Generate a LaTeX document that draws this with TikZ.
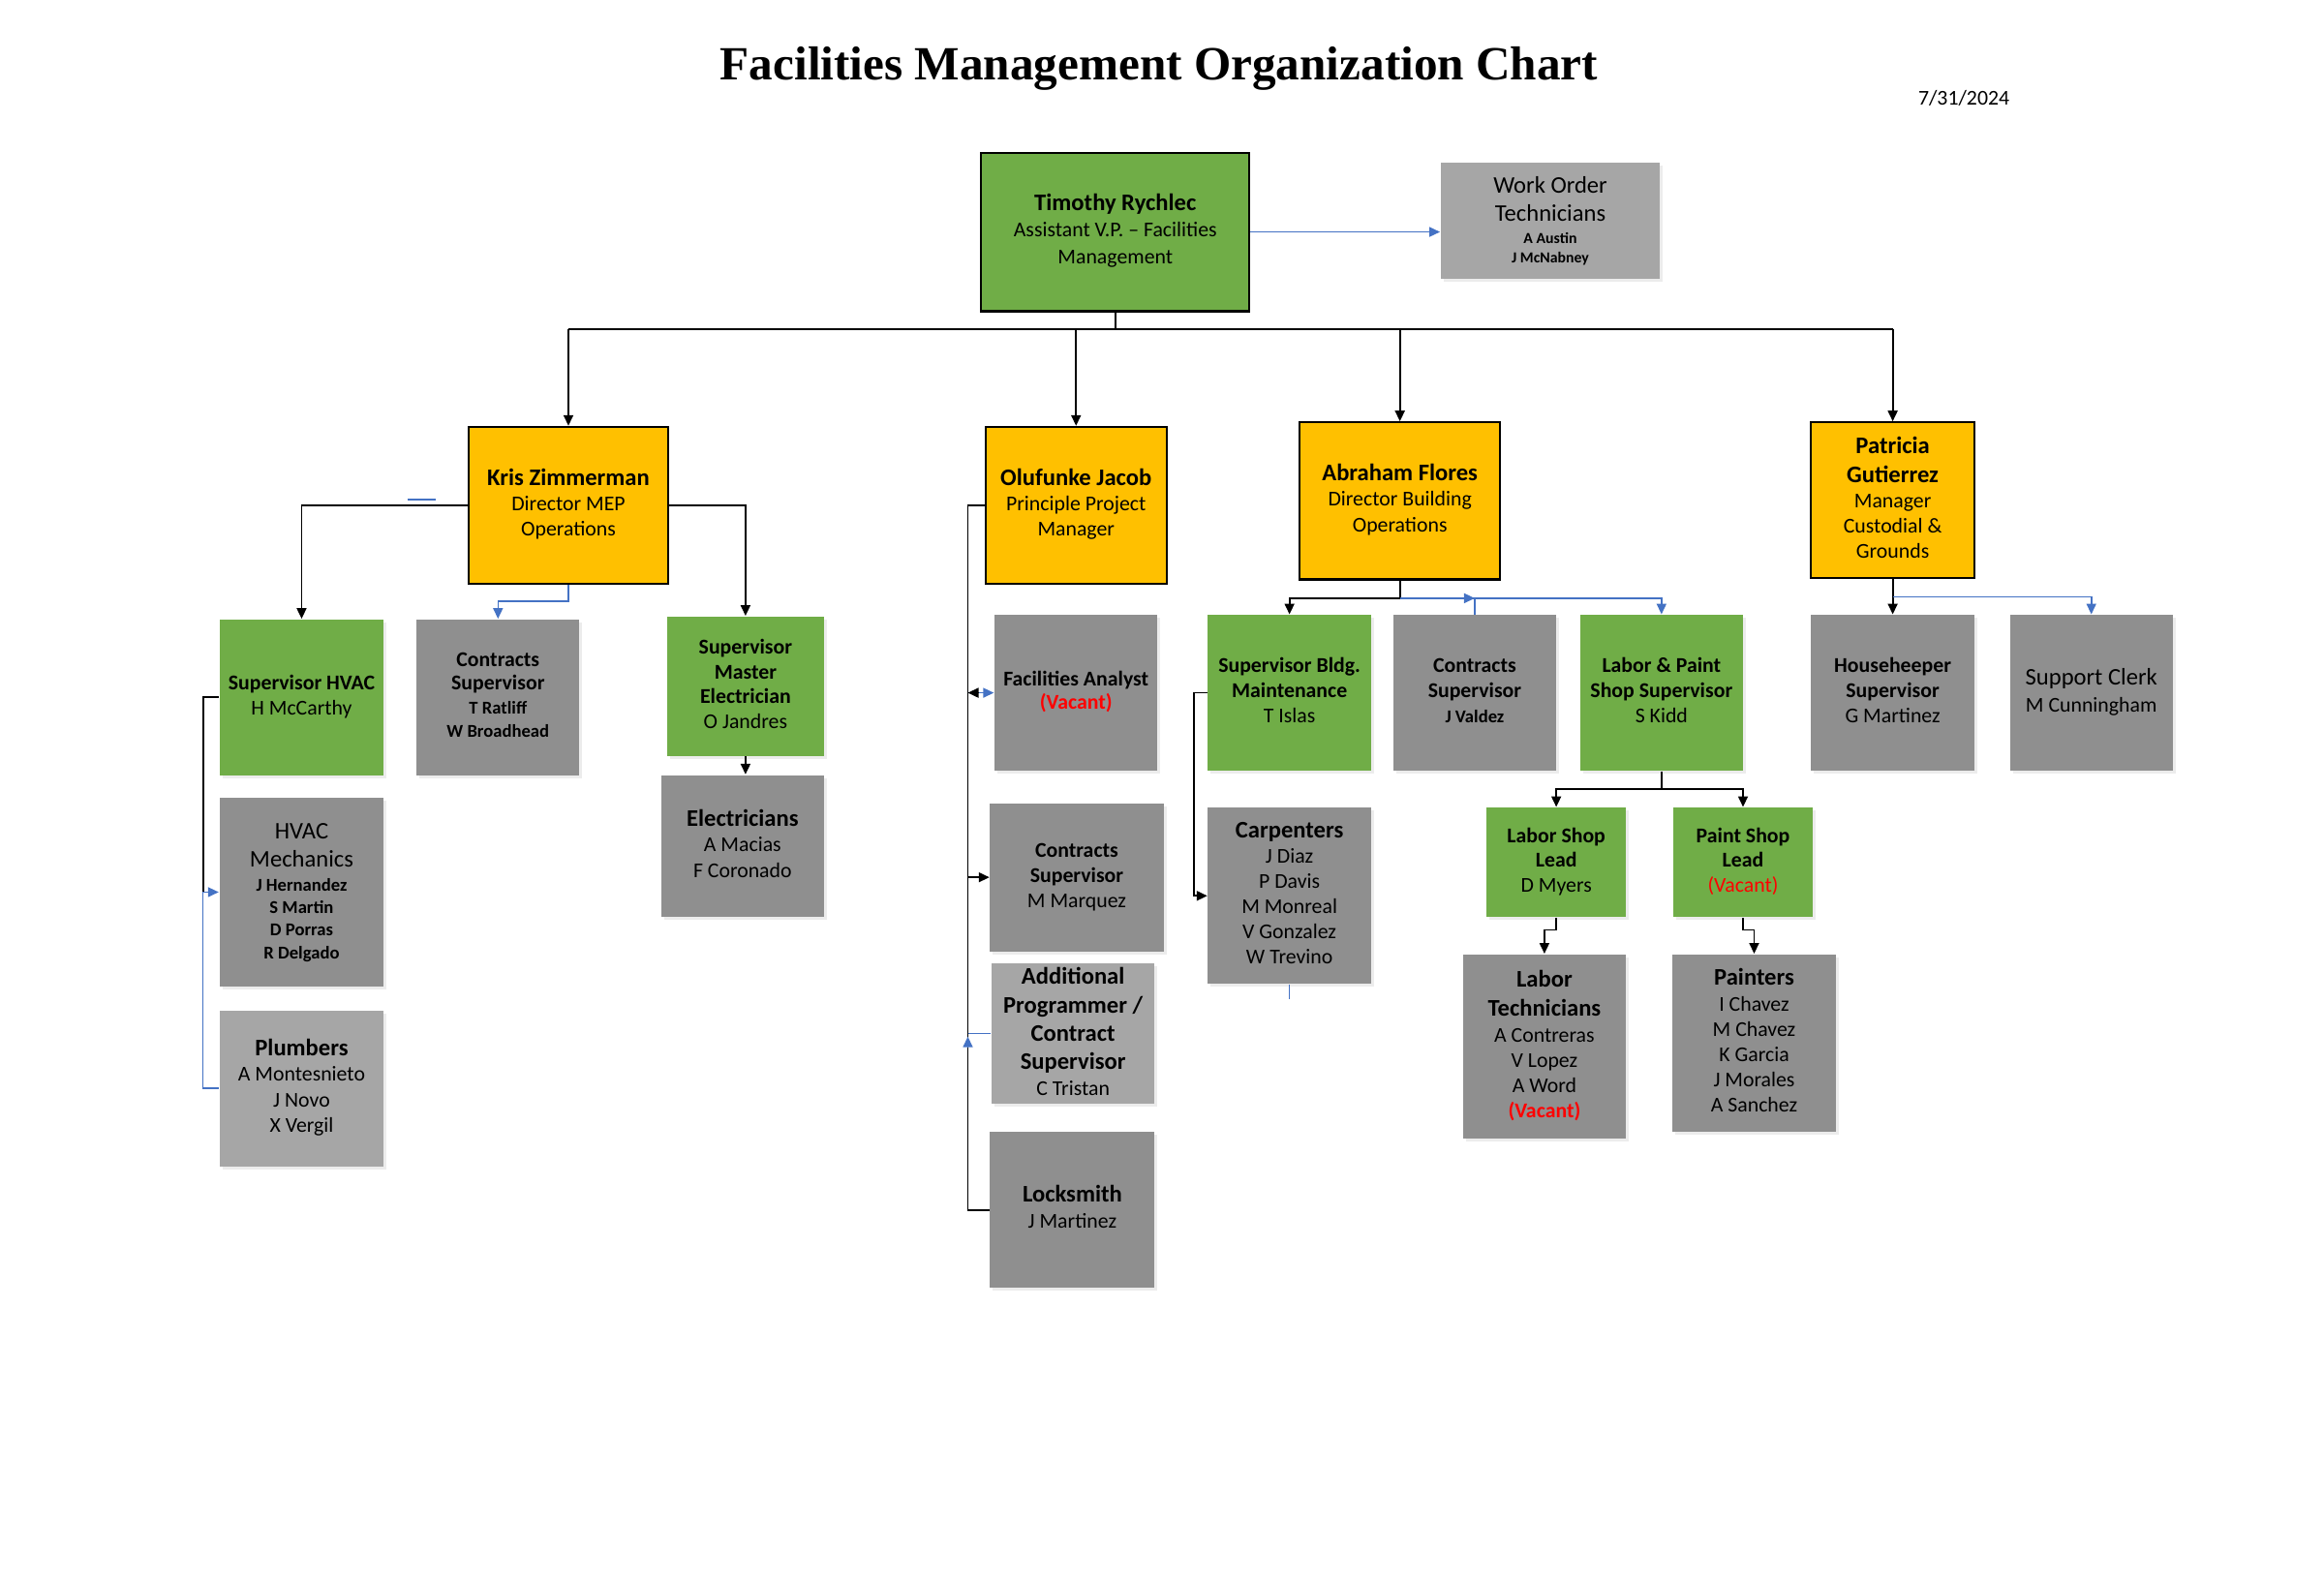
\documentclass[tikz,border=0pt]{standalone}
\usepackage{fontspec}
\setmainfont{Carlito}
\newfontfamily\titlefont{Liberation Serif}
\usetikzlibrary{arrows.meta,shadows,calc}
\definecolor{gr}{HTML}{70AD47}
\definecolor{og}{HTML}{FFC000}
\definecolor{dg}{HTML}{8F8F8F}
\definecolor{lg}{HTML}{A6A6A6}
\definecolor{bl}{HTML}{4472C4}
\definecolor{vr}{HTML}{FF0000}
\newcommand\fA{\fontsize{7}{8}\selectfont}
\newcommand\fB{\fontsize{6.2}{7}\selectfont}
\newcommand\fC{\fontsize{5.3}{6}\selectfont}
\newcommand\fD{\fontsize{4.5}{5}\selectfont}
\newcommand\R[3]{\rule[-\dimexpr#1*3/10\relax]{0pt}{#1}#2#3}
\newcommand\stk[1]{\raisebox{-0.45mm}{\renewcommand\arraystretch{0}\begin{tabular}{@{}c@{}}#1\end{tabular}}}
\newcommand\orgbox[7]{\node[#1, minimum width={(#4-#3)*0.015306cm}, minimum height={(#6-#5)*0.015306cm}] (#2) at ({(#3+#4)/2},{(#5+#6)/2}) {#7};}
\tikzset{
  box/.style={rectangle, inner sep=0pt, align=center, text=black},
  shd/.style={drop shadow={shadow xshift=0.3mm, shadow yshift=-0.3mm, opacity=0.15}},
  tbox/.style={box, fill=gr, draw=black, line width=0.6pt},
  obox/.style={box, fill=og, draw=black, line width=0.6pt},
  gbox/.style={box, fill=gr, shd},
  dbox/.style={box, fill=dg, shd},
  lbox/.style={box, fill=lg, shd},
  cline/.style={draw=black, line width=0.5pt},
  carrow/.style={cline, -{Triangle[length=1.1mm,width=1.0mm]}},
  bline/.style={draw=bl, line width=0.45pt},
  barrow/.style={bline, -{Triangle[length=1.1mm,width=1.0mm]}}
}
\begin{document}
\begin{tikzpicture}[x=0.015306cm, y=-0.015306cm]
\useasboundingbox (0,0) rectangle (1568,1066.24);
\node[font=\titlefont\bfseries\fontsize{14}{16}\selectfont] (title) at (782,46) {Facilities Management Organization Chart};
\node[font=\fontsize{6.2}{7}\selectfont] (date) at (1325,66) {7/31/2024};

\orgbox{tbox}{tim}{662}{843}{103}{210}{\raisebox{0.9mm}{\stk{\R{7.7pt}{\fA\bfseries}{Timothy Rychlec}\\\R{7.7pt}{\fB}{Assistant V.P. – Facilities}\\\R{7.7pt}{\fB}{Management}}}}
\orgbox{lbox}{wo}{972}{1120}{110}{188}{\stk{\R{8.3pt}{\fA}{Work Order}\\\R{8.3pt}{\fA}{Technicians}\\\R{5.7pt}{\fD\bfseries}{A Austin}\\\R{5.7pt}{\fD\bfseries}{J McNabney}}}

\orgbox{obox}{kris}{316}{451}{288}{394}{\stk{\R{7.7pt}{\fA\bfseries}{Kris Zimmerman}\\\R{7.5pt}{\fB}{Director MEP}\\\R{7.5pt}{\fB}{Operations}}}
\orgbox{obox}{ol}{665}{787}{288}{394}{\stk{\R{7.7pt}{\fA\bfseries}{Olufunke Jacob}\\\R{7.5pt}{\fB}{Principle Project}\\\R{7.5pt}{\fB}{Manager}}}
\orgbox{obox}{ab}{877}{1012}{285}{391}{\stk{\R{7.7pt}{\fA\bfseries}{Abraham Flores}\\\R{7.5pt}{\fB}{Director Building}\\\R{7.5pt}{\fB}{Operations}}}
\orgbox{obox}{pat}{1222}{1332}{285}{390}{\stk{\R{8.3pt}{\fA\bfseries}{Patricia}\\\R{8.3pt}{\fA\bfseries}{Gutierrez}\\\R{7.4pt}{\fB}{Manager}\\\R{7.4pt}{\fB}{Custodial \&}\\\R{7.4pt}{\fB}{Grounds}}}

\orgbox{gbox}{shvac}{148}{259}{418}{523}{\stk{\R{7.5pt}{\fB\bfseries}{Supervisor HVAC}\\\R{7.5pt}{\fB}{H McCarthy}}}
\orgbox{dbox}{cst}{281}{391}{418}{523}{\stk{\R{6.9pt}{\fB\bfseries}{Contracts}\\\R{6.9pt}{\fB\bfseries}{Supervisor}\\\R{6.9pt}{\fC\bfseries}{T Ratliff}\\\R{6.9pt}{\fC\bfseries}{W Broadhead}}}
\orgbox{gbox}{sme}{450}{556}{416}{510}{\stk{\R{7.3pt}{\fB\bfseries}{Supervisor}\\\R{7.3pt}{\fB\bfseries}{Master}\\\R{7.3pt}{\fB\bfseries}{Electrician}\\\R{7.3pt}{\fB}{O Jandres}}}
\orgbox{dbox}{elec}{446}{556}{523}{619}{\stk{\R{7.9pt}{\fA\bfseries}{Electricians}\\\R{7.5pt}{\fB}{A Macias}\\\R{7.5pt}{\fB}{F Coronado}}}
\orgbox{dbox}{hvm}{148}{259}{538}{666}{\stk{\R{8.3pt}{\fA}{HVAC}\\\R{8.3pt}{\fA}{Mechanics}\\\R{6.6pt}{\fC\bfseries}{J Hernandez}\\\R{6.6pt}{\fC\bfseries}{S Martin}\\\R{6.6pt}{\fC\bfseries}{D Porras}\\\R{6.6pt}{\fC\bfseries}{R Delgado}}}
\orgbox{lbox}{plumb}{148}{259}{682}{787}{\stk{\R{7.7pt}{\fA\bfseries}{Plumbers}\\\R{7.4pt}{\fB}{A Montesnieto}\\\R{7.4pt}{\fB}{J Novo}\\\R{7.4pt}{\fB}{X Vergil}}}

\orgbox{dbox}{fa}{671}{781}{415}{520}{\stk{\R{7pt}{\fB\bfseries}{Facilities Analyst}\\\R{7pt}{\fB\bfseries\color{vr}}{(Vacant)}}}
\orgbox{dbox}{cms}{668}{785}{542}{642}{\stk{\R{7.4pt}{\fB\bfseries}{Contracts}\\\R{7.4pt}{\fB\bfseries}{Supervisor}\\\R{7.4pt}{\fB}{M Marquez}}}
\orgbox{lbox}{ap}{669}{779}{650}{745}{\stk{\R{8.3pt}{\fA\bfseries}{Additional}\\\R{8.3pt}{\fA\bfseries}{Programmer /}\\\R{8.3pt}{\fA\bfseries}{Contract}\\\R{8.3pt}{\fA\bfseries}{Supervisor}\\\R{7.3pt}{\fB}{C Tristan}}}
\orgbox{dbox}{lock}{668}{779}{764}{869}{\stk{\R{7.6pt}{\fA\bfseries}{Locksmith}\\\R{7.6pt}{\fB}{J Martinez}}}

\orgbox{gbox}{sbm}{815}{925}{415}{520}{\stk{\R{7.4pt}{\fB\bfseries}{Supervisor Bldg.}\\\R{7.4pt}{\fB\bfseries}{Maintenance}\\\R{7.4pt}{\fB}{T Islas}}}
\orgbox{dbox}{jv}{940}{1050}{415}{520}{\stk{\R{7.4pt}{\fB\bfseries}{Contracts}\\\R{7.4pt}{\fB\bfseries}{Supervisor}\\\R{7.4pt}{\fC\bfseries}{J Valdez}}}
\orgbox{gbox}{lp}{1066}{1176}{415}{520}{\stk{\R{7.4pt}{\fB\bfseries}{Labor \& Paint}\\\R{7.4pt}{\fB\bfseries}{Shop Supervisor}\\\R{7.4pt}{\fB}{S Kidd}}}
\orgbox{dbox}{carp}{815}{925}{545}{664}{\stk{\R{7.6pt}{\fA\bfseries}{Carpenters}\\\R{7.4pt}{\fB}{J Diaz}\\\R{7.4pt}{\fB}{P Davis}\\\R{7.4pt}{\fB}{M Monreal}\\\R{7.4pt}{\fB}{V Gonzalez}\\\R{7.4pt}{\fB}{W Trevino}}}
\orgbox{gbox}{lsl}{1003}{1097}{545}{619}{\stk{\R{7.3pt}{\fB\bfseries}{Labor Shop}\\\R{7.3pt}{\fB\bfseries}{Lead}\\\R{7.3pt}{\fB}{D Myers}}}
\orgbox{gbox}{psl}{1129}{1223}{545}{619}{\stk{\R{7.3pt}{\fB\bfseries}{Paint Shop}\\\R{7.3pt}{\fB\bfseries}{Lead}\\\R{7.3pt}{\fB\color{vr}}{(Vacant)}}}
\orgbox{dbox}{lt}{987}{1097}{644}{768}{\stk{\R{8.3pt}{\fA\bfseries}{Labor}\\\R{8.3pt}{\fA\bfseries}{Technicians}\\\R{7.4pt}{\fB}{A Contreras}\\\R{7.4pt}{\fB}{V Lopez}\\\R{7.4pt}{\fB}{A Word}\\\R{7.4pt}{\fB\bfseries\color{vr}}{(Vacant)}}}
\orgbox{dbox}{pt}{1128}{1239}{644}{764}{\stk{\R{7.6pt}{\fA\bfseries}{Painters}\\\R{7.4pt}{\fB}{I Chavez}\\\R{7.4pt}{\fB}{M Chavez}\\\R{7.4pt}{\fB}{K Garcia}\\\R{7.4pt}{\fB}{J Morales}\\\R{7.4pt}{\fB}{A Sanchez}}}
\orgbox{dbox}{hk}{1222}{1332}{415}{520}{\stk{\R{7.4pt}{\fB\bfseries}{Househeeper}\\\R{7.4pt}{\fB\bfseries}{Supervisor}\\\R{7.4pt}{\fB}{G Martinez}}}
\orgbox{dbox}{sc}{1356}{1466}{415}{520}{\stk{\R{8pt}{\fA}{Support Clerk}\\\R{8pt}{\fB}{M Cunningham}}}

% top level
\coordinate (bus) at (0,222);
\draw[barrow] (tim.east) -- (tim.east -| wo.west);
\draw[cline] (tim.south) -- (tim.south |- bus);
\draw[cline] (kris.north |- bus) -- (pat.north |- bus);
\draw[carrow] (kris.north |- bus) -- (kris.north);
\draw[carrow] (ol.north |- bus) -- (ol.north);
\draw[carrow] (ab.north |- bus) -- (ab.north);
\draw[carrow] (pat.north |- bus) -- (pat.north);

% Kris
\draw[carrow] (kris.west) -| (shvac.north);
\draw[carrow] (kris.east) -| (sme.north);
\draw[barrow] (kris.south) -- ++(0,11) -| (cst.north);
\coordinate (s1) at (275,337);
\coordinate (s2) at (294,337);
\draw[bline] (s1) -- (s2);
\draw[carrow] (sme.south) -- (sme.south |- elec.north);
\coordinate (hvx) at (137,0);
\draw[cline] (shvac.west) -| (hvx |- hvm.west);
\draw[barrow] (plumb.west) -| (hvx |- hvm.west) -- (hvm.west);

% Olufunke
\coordinate (olx) at (653,0);
\draw[cline] (ol.west) -| (olx |- lock.west) -- (lock.west);
\draw[carrow] (olx |- cms.west) -- (cms.west);
\draw[barrow] (olx |- fa.west) -- (fa.west);
\draw[carrow] ($(olx |- fa.west)+(7,0)$) -- (olx |- fa.west);
\draw[bline] (ap.west) -- (olx |- ap.west);
\draw[barrow] ($(olx |- ap.west)+(0,9)$) -- ($(olx |- ap.west)+(0,2)$);

% Abraham
\coordinate (abj) at ($(ab.south)+(0,12)$);
\draw[cline] (ab.south) -- (abj);
\draw[carrow] (abj) -| (sbm.north);
\draw[barrow] (abj) -| (lp.north);
\draw[bline] (jv.north) -- (jv.north |- abj);
\draw[barrow] ($(jv.north |- abj)+(-8,0)$) -- (jv.north |- abj);
\draw[carrow] (sbm.west) -- ++(-9,0) |- (carp.west);
\draw[bline] (carp.south) -- ++(0,10);
\coordinate (lpj) at ($(lp.south)+(0,12)$);
\draw[cline] (lp.south) -- (lpj);
\draw[carrow] (lpj) -| (lsl.north);
\draw[carrow] (lpj) -| (psl.north);
\draw[carrow] (lsl.south) -- ++(0,8) -| (lt.north);
\draw[carrow] (psl.south) -- ++(0,8) -| (pt.north);

% Patricia
\draw[carrow] (pat.south) -- (pat.south |- hk.north);
\draw[barrow] ($(pat.south)+(0,12)$) -| (sc.north);
\end{tikzpicture}
\end{document}
